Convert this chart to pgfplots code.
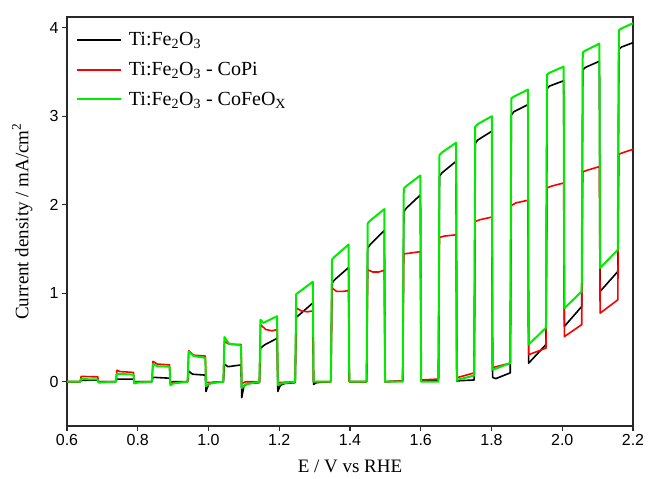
\documentclass[border=0pt]{standalone}
\usepackage{fontspec}
\setmainfont{Liberation Serif}
\newfontfamily\arial{Liberation Sans}
\usepackage{pgfplots}
\pgfplotsset{compat=1.18}

\definecolor{cgreen}{RGB}{0,235,0}
\definecolor{cred}{RGB}{250,0,0}
\definecolor{axgray}{RGB}{40,40,40}

\begin{document}
\begin{tikzpicture}
\begin{axis}[
    scale only axis,
    width=566bp, height=409bp,
    xmin=0.6, xmax=2.2,
    ymin=-0.5, ymax=4.12,
    xtick={0.6,0.8,...,2.2},
    ytick={0,1,2,3,4},
    /pgf/number format/assume math mode=true,
    xticklabel={\arial\fontsize{16bp}{18bp}\selectfont\pgfmathprintnumber[fixed,fixed zerofill,precision=1]{\tick}},
    yticklabel={\arial\fontsize{16bp}{18bp}\selectfont\pgfmathprintnumber{\tick}},
    tick align=outside,
    xtick pos=bottom, ytick pos=left,
    major tick length=5bp,
    axis line style={axgray, line width=1.2bp},
    every tick/.style={axgray, line width=1.2bp},
    xlabel={E / V vs RHE},
    ylabel={Current density / mA/cm\textsuperscript{2}},
    label style={font=\fontsize{19bp}{22bp}\selectfont},
    xlabel style={at={(axis description cs:0.5,-0.098)}, anchor=center},
    ylabel style={at={(axis description cs:-0.079,0.5)}, anchor=center},
    legend style={at={(axis description cs:0.012,0.972)}, anchor=north west,
        draw=none, fill=none, font=\fontsize{20bp}{22bp}\selectfont,
        row sep=11bp, inner sep=2bp},
    legend cell align=left,
    legend image code/.code={\draw[#1] (0bp,0bp) -- (44bp,0bp); \path (49bp,0bp);},
    every axis plot/.append style={line join=round},
]
% Ti:Fe2O3
\addplot[black, line width=1.6bp] coordinates {
(0.6,0) (0.637,0) (0.640,0.015) (0.687,0.02) (0.689,0) (0.738,0) (0.741,0.03) (0.788,0.03)
(0.790,0) (0.840,0) (0.843,0.05) (0.890,0.04) (0.892,-0.01) (0.900,0) (0.941,0) (0.944,0.12)
(0.955,0.085) (0.991,0.075) (0.993,-0.11) (1.000,-0.03) (1.010,-0.01) (1.042,0) (1.045,0.20)
(1.055,0.17) (1.092,0.19) (1.094,-0.18) (1.100,-0.05) (1.110,-0.02) (1.144,-0.01) (1.147,0.38)
(1.160,0.42) (1.194,0.49) (1.196,-0.11) (1.203,-0.04) (1.215,-0.02) (1.245,-0.01) (1.248,0.73)
(1.255,0.75) (1.295,0.89) (1.297,-0.03) (1.305,-0.01) (1.346,0) (1.349,1.11) (1.356,1.15)
(1.396,1.29) (1.398,0) (1.447,0) (1.450,1.51) (1.457,1.55) (1.497,1.71) (1.499,0) (1.549,0.01)
(1.552,1.92) (1.559,1.96) (1.599,2.11) (1.601,0.01) (1.650,0.02) (1.653,2.32) (1.660,2.36)
(1.700,2.49) (1.702,0.01) (1.751,0.02) (1.754,2.69) (1.761,2.73) (1.801,2.83) (1.803,0.05)
(1.812,0.035) (1.853,0.10) (1.856,3.01) (1.863,3.05) (1.903,3.13) (1.905,0.21) (1.954,0.42)
(1.957,3.31) (1.964,3.34) (2.004,3.40) (2.006,0.625) (2.055,0.85) (2.058,3.52) (2.065,3.55)
(2.105,3.62) (2.107,1.02) (2.157,1.245) (2.160,3.75) (2.167,3.78) (2.2,3.83)
};
\addlegendentry{Ti:Fe\textsubscript{2}O\textsubscript{3}}
% Ti:Fe2O3 - CoPi
\addplot[cred, line width=1.6bp] coordinates {
(0.6,0) (0.637,0) (0.640,0.06) (0.687,0.055) (0.689,0) (0.738,0) (0.741,0.13) (0.750,0.115)
(0.788,0.105) (0.790,-0.01) (0.800,0) (0.840,0) (0.843,0.23) (0.855,0.20) (0.890,0.19)
(0.892,-0.01) (0.941,0) (0.944,0.35) (0.958,0.30) (0.991,0.29) (0.993,-0.01) (1.042,0)
(1.045,0.455) (1.058,0.425) (1.092,0.42) (1.094,-0.02) (1.105,0) (1.144,0) (1.147,0.645)
(1.162,0.59) (1.180,0.575) (1.194,0.59) (1.196,-0.01) (1.245,0) (1.248,0.835) (1.262,0.80)
(1.280,0.79) (1.295,0.80) (1.297,0) (1.346,0) (1.349,1.06) (1.362,1.02) (1.380,1.02)
(1.396,1.03) (1.398,0) (1.447,0) (1.450,1.265) (1.464,1.24) (1.482,1.24) (1.497,1.26)
(1.499,0) (1.549,0.01) (1.552,1.445) (1.565,1.45) (1.599,1.47) (1.601,0.02) (1.650,0.03)
(1.653,1.63) (1.666,1.645) (1.700,1.66) (1.702,0.045) (1.751,0.10) (1.754,1.81) (1.767,1.83)
(1.801,1.86) (1.803,0.16) (1.853,0.21) (1.856,1.99) (1.869,2.02) (1.903,2.05) (1.905,0.305)
(1.954,0.38) (1.957,2.19) (1.970,2.21) (2.004,2.245) (2.006,0.51) (2.055,0.645) (2.058,2.37)
(2.071,2.39) (2.105,2.43) (2.107,0.775) (2.157,0.925) (2.160,2.57) (2.173,2.59) (2.2,2.625)
};
\addlegendentry{Ti:Fe\textsubscript{2}O\textsubscript{3} - CoPi}
% Ti:Fe2O3 - CoFeOx
\addplot[cgreen, line width=2bp] coordinates {
(0.6,0) (0.637,0) (0.640,0.03) (0.687,0.025) (0.689,-0.01) (0.738,0) (0.741,0.09) (0.788,0.08)
(0.790,-0.02) (0.800,-0.01) (0.840,0) (0.843,0.20) (0.855,0.175) (0.890,0.17) (0.892,-0.04)
(0.900,-0.02) (0.941,0) (0.944,0.34) (0.958,0.29) (0.991,0.27) (0.993,-0.05) (1.003,-0.02)
(1.042,0) (1.045,0.505) (1.058,0.43) (1.092,0.41) (1.094,-0.07) (1.104,-0.03) (1.144,0)
(1.147,0.70) (1.155,0.665) (1.194,0.74) (1.196,-0.04) (1.205,-0.02) (1.245,0) (1.248,0.99)
(1.255,1.01) (1.295,1.13) (1.297,0) (1.346,0) (1.349,1.38) (1.356,1.41) (1.396,1.55)
(1.398,0) (1.447,0) (1.450,1.79) (1.457,1.82) (1.497,1.95) (1.499,0) (1.549,0) (1.552,2.18)
(1.559,2.21) (1.599,2.33) (1.601,0) (1.650,0) (1.653,2.56) (1.660,2.59) (1.700,2.70)
(1.702,0.02) (1.751,0.07) (1.754,2.88) (1.761,2.91) (1.801,3.0) (1.803,0.135) (1.853,0.21)
(1.856,3.20) (1.863,3.22) (1.903,3.30) (1.905,0.42) (1.954,0.61) (1.957,3.47) (1.964,3.49)
(2.004,3.56) (2.006,0.83) (2.055,1.02) (2.058,3.72) (2.065,3.74) (2.105,3.82) (2.107,1.285)
(2.157,1.49) (2.160,3.97) (2.167,3.99) (2.2,4.05)
};
\addlegendentry{Ti:Fe\textsubscript{2}O\textsubscript{3} - CoFeO\textsubscript{X}}
\end{axis}
\pgfresetboundingbox
\path[use as bounding box] (-67bp,-53bp) rectangle (581bp,426bp);
\end{tikzpicture}
\end{document}
